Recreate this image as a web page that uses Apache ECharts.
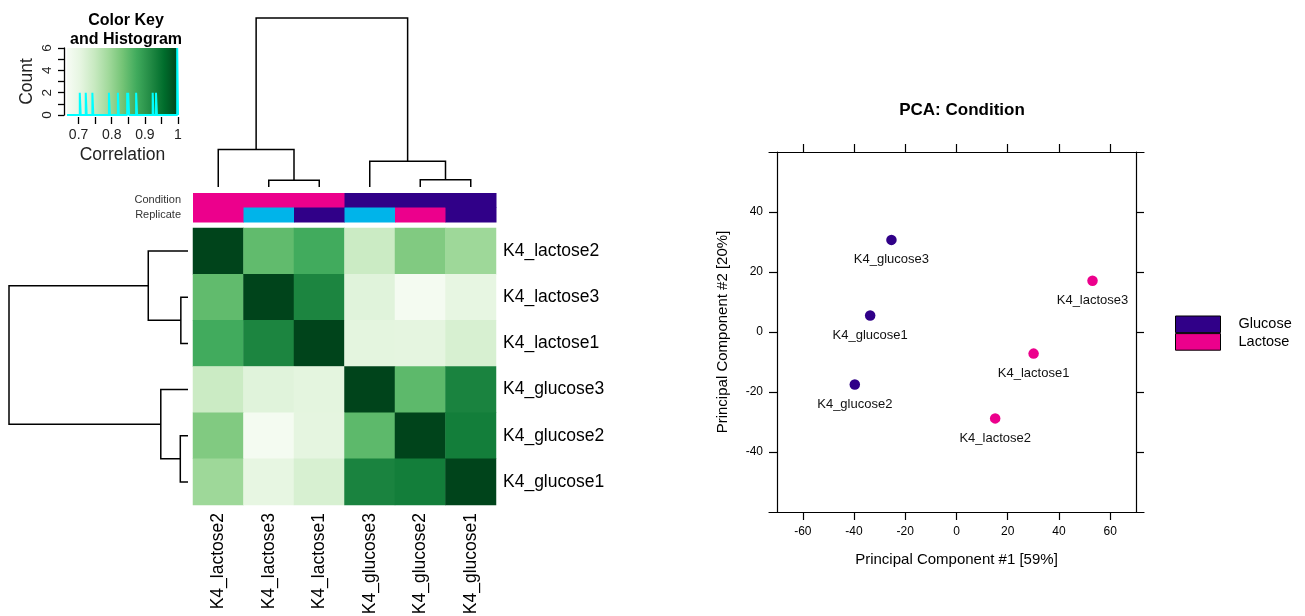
<!DOCTYPE html>
<html><head><meta charset="utf-8">
<script src="https://cdn.jsdelivr.net/npm/echarts@6/dist/echarts.min.js"></script>
<style>html,body{margin:0;padding:0;background:#fff}#c{width:1305px;height:616px}</style>
</head><body><div id="c"></div>
<script>
// ---------- data ----------
const samples = ['K4_lactose2','K4_lactose3','K4_lactose1','K4_glucose3','K4_glucose2','K4_glucose1'];
// correlation matrix (rows/cols in sample order)
const corL2 = [1.000, 0.848, 0.875, 0.743, 0.820, 0.793];
const corL3 = [0.848, 1.000, 0.925, 0.714, 0.672, 0.702];
const corL1 = [0.875, 0.925, 1.000, 0.708, 0.706, 0.726];
const corG3 = [0.743, 0.714, 0.708, 1.000, 0.851, 0.927];
const corG2 = [0.820, 0.672, 0.706, 0.851, 1.000, 0.935];
const corG1 = [0.793, 0.702, 0.726, 0.927, 0.935, 1.000];
const corRows = [corL2, corL3, corL1, corG3, corG2, corG1];

const condition = ['Lactose','Lactose','Lactose','Glucose','Glucose','Glucose'];
const replicate = [2, 3, 1, 3, 2, 1];
const annotRows = ['Condition', 'Replicate'];

// dendrogram merges: [childA, childB, height]; 0-5 leaves, 6+ merged nodes
const dendroMerges = [[1, 2, 0.040], [4, 5, 0.043], [0, 6, 0.222], [3, 7, 0.152], [8, 9, 1.0]];

// colour key histogram
const histCenters = [0.705, 0.723, 0.743, 0.793, 0.820, 0.848, 0.851, 0.875, 0.925, 0.935, 0.999];
const histCounts  = [2, 2, 2, 2, 2, 2, 2, 2, 2, 2, 6];
const keyTicks = [0.7, 0.75, 0.8, 0.85, 0.9, 0.95, 1.0];
const keyLabels = [0.7, 0.8, 0.9, 1];
const countTicks = [0, 1, 2, 3, 4, 5, 6];
const countLabels = [0, 2, 4, 6];

// PCA
const pcaNames = ['K4_glucose1','K4_glucose2','K4_glucose3','K4_lactose1','K4_lactose2','K4_lactose3'];
const pc1 = [-33.7, -39.7, -25.4, 30.1, 15.1, 53.1];
const pc2 = [5.5, -17.5, 30.7, -7.2, -28.8, 17.1];
const pcaCond = ['Glucose','Glucose','Glucose','Lactose','Lactose','Lactose'];
const pcaXTicks = [-60, -40, -20, 0, 20, 40, 60];
const pcaYTicks = [-40, -20, 0, 20, 40];

// ---------- styles ----------
const FONT = '"Liberation Sans", Arial, sans-serif';
const greens = ['#f7fcf5','#e5f5e0','#c7e9c0','#a1d99b','#74c476','#41ab5d','#238b45','#006d2c','#00441b'];
const condColors = {Glucose: '#300088', Lactose: '#ec008c'};
const repColors = {1: '#300088', 2: '#ec008c', 3: '#00b4ea'};
const keyMin = 0.665, keyMax = 1.0, histBinWidth = 0.0028;

// ---------- derived ----------
const heatData = [];
corRows.forEach((row, r) => row.forEach((v, c) => heatData.push([c, r, v])));

const annotData = [];
samples.forEach((s, i) => { annotData.push([i, 0]); annotData.push([i, 1]); });

const nodePos = samples.map((s, i) => i + 0.5);
const nodeH = samples.map(() => 0);
const dendroSegs = [];
dendroMerges.forEach(m => {
  const a = m[0], b = m[1], h = m[2];
  dendroSegs.push([nodePos[a], nodeH[a], nodePos[b], nodeH[b], h]);
  nodePos.push((nodePos[a] + nodePos[b]) / 2);
  nodeH.push(h);
});

const histPts = [[keyMin, 0]];
histCenters.forEach((c, i) => {
  const l = c - histBinWidth / 2, r = Math.min(c + histBinWidth / 2, keyMax);
  histPts.push([l, 0], [l, histCounts[i]], [r, histCounts[i]], [r, 0]);
});
histPts.push([keyMax, 0]);

function pcaSeriesData(cond) {
  const out = [];
  pcaNames.forEach((n, i) => { if (pcaCond[i] === cond) out.push({name: n, value: [pc1[i], pc2[i]]}); });
  return out;
}

function dendroSeries(axisIdx, horizontal) {
  return {
    type: 'custom', xAxisIndex: axisIdx, yAxisIndex: axisIdx, clip: false, silent: true,
    data: dendroSegs,
    encode: horizontal ? {x: [1, 3, 4], y: [0, 2]} : {x: [0, 2], y: [1, 3, 4]},
    renderItem: function (params, api) {
      const xl = api.value(0), hl = api.value(1), xr = api.value(2), hr = api.value(3), h = api.value(4);
      const P = horizontal ? (p, hh) => api.coord([hh, p]) : (p, hh) => api.coord([p, hh]);
      return {type: 'polyline', shape: {points: [P(xl, hl), P(xl, h), P(xr, h), P(xr, hr)]},
        style: {stroke: '#000', lineWidth: 1.5, fill: null}};
    }
  };
}

const hidden = (extra) => Object.assign({show: false, axisLine: {onZero: false}}, extra);
const pcaAxisLine = {show: true, onZero: false, lineStyle: {color: '#000', width: 1.2}};
const pointLabel = {show: true, position: 'bottom', distance: 8, formatter: '{b}', fontSize: 13, color: '#111', opacity: 1};

const chart = echarts.init(document.getElementById('c'));
chart.setOption({
  animation: false,
  backgroundColor: '#fff',
  textStyle: {fontFamily: FONT},
  title: [
    {text: 'Color Key\nand Histogram', left: 121, top: 6, textAlign: 'center',
     textStyle: {fontSize: 16, fontWeight: 'bold', lineHeight: 19, color: '#000', fontFamily: FONT}},
    {text: 'PCA: Condition', left: 957, top: 97, textAlign: 'center',
     textStyle: {fontSize: 17, fontWeight: 'bold', color: '#000', fontFamily: FONT}}
  ],
  grid: [
    {left: 193, top: 228, width: 303, height: 277, outerBoundsMode: 'none'},
    {left: 193, top: 193, width: 303, height: 29, outerBoundsMode: 'none'},
    {left: 193, top: 18, width: 303, height: 169, outerBoundsMode: 'none'},
    {left: 9, top: 228, width: 179, height: 277, outerBoundsMode: 'none'},
    {left: 67, top: 48, width: 111, height: 67, outerBoundsMode: 'none'},
    {left: 769, top: 152, width: 375, height: 360, outerBoundsMode: 'none'}
  ],
  visualMap: {type: 'continuous', show: false, min: keyMin, max: keyMax, seriesIndex: 0, dimension: 2,
    inRange: {color: greens}},
  legend: {
    data: ['Glucose', 'Lactose'], orient: 'vertical', left: 1175, top: 315.5, padding: 0,
    itemWidth: 45, itemHeight: 16.6, itemGap: 0, icon: 'rect',
    itemStyle: {borderColor: '#000', borderWidth: 1, opacity: 1},
    textStyle: {fontSize: 14.5, color: '#000', padding: [0, 0, 0, 13], fontFamily: FONT}
  },
  xAxis: [
    {type: 'category', gridIndex: 0, data: samples, position: 'bottom',
     axisLine: {show: false}, axisTick: {show: false}, splitLine: {show: false},
     axisLabel: {rotate: 90, fontSize: 17.5, color: '#000', margin: 8, interval: 0}},
    {type: 'category', gridIndex: 1, data: samples, show: false},
    hidden({type: 'value', gridIndex: 2, min: 0, max: 6}),
    hidden({type: 'value', gridIndex: 3, min: 0, max: 1, inverse: true}),
    {type: 'value', gridIndex: 4, min: keyMin, max: keyMax, offset: 2,
     axisLine: {show: false, onZero: false}, splitLine: {show: false},
     axisTick: {show: true, customValues: keyTicks, length: 7, lineStyle: {color: '#000', width: 1.3}},
     axisLabel: {customValues: keyLabels, fontSize: 14, color: '#222', margin: 11},
     name: 'Correlation', nameLocation: 'middle', nameGap: 29, nameMoveOverlap: false,
     nameTextStyle: {fontSize: 17.5, color: '#222'}},
    {type: 'value', gridIndex: 5, min: -73.2, max: 73.2, position: 'bottom',
     axisLine: pcaAxisLine, splitLine: {show: false},
     axisTick: {show: true, customValues: pcaXTicks, length: 8, lineStyle: {color: '#000', width: 1.2}},
     axisLabel: {customValues: pcaXTicks, fontSize: 12, color: '#000', margin: 14},
     name: 'Principal Component #1 [59%]', nameLocation: 'middle', nameGap: 40, nameMoveOverlap: false,
     nameTextStyle: {fontSize: 15, color: '#000'}},
    {type: 'value', gridIndex: 5, min: -73.2, max: 73.2, position: 'top',
     axisLine: pcaAxisLine, splitLine: {show: false},
     axisTick: {show: true, customValues: pcaXTicks, length: 8, lineStyle: {color: '#000', width: 1.2}},
     axisLabel: {show: false}}
  ],
  yAxis: [
    {type: 'category', gridIndex: 0, data: samples, inverse: true, position: 'right',
     axisLine: {show: false}, axisTick: {show: false}, splitLine: {show: false},
     axisLabel: {fontSize: 17.5, color: '#000', margin: 7, interval: 0}},
    {type: 'category', gridIndex: 1, data: annotRows, inverse: true, position: 'left',
     axisLine: {show: false}, axisTick: {show: false},
     axisLabel: {fontSize: 11, color: '#333', margin: 12, interval: 0}},
    hidden({type: 'value', gridIndex: 2, min: 0, max: 1}),
    hidden({type: 'value', gridIndex: 3, min: 0, max: 6, inverse: true}),
    {type: 'value', gridIndex: 4, min: 0, max: 6, offset: 3, splitLine: {show: false},
     axisLine: {show: true, onZero: false, lineStyle: {color: '#000', width: 1.3}},
     axisTick: {show: true, customValues: countTicks, length: 6, lineStyle: {color: '#000', width: 1.3}},
     axisLabel: {customValues: countLabels, rotate: 90, fontSize: 13.5, color: '#222', margin: 10},
     name: 'Count', nameLocation: 'middle', nameRotate: 90, nameGap: 28, nameMoveOverlap: false,
     nameTextStyle: {fontSize: 17.5, color: '#222'}},
    {type: 'value', gridIndex: 5, min: -60, max: 60, position: 'left', offset: -8,
     axisLine: pcaAxisLine, splitLine: {show: false},
     axisTick: {show: true, customValues: pcaYTicks, length: 8, lineStyle: {color: '#000', width: 1.2}},
     axisLabel: {customValues: pcaYTicks, fontSize: 12, color: '#000', margin: 14},
     name: 'Principal Component #2 [20%]', nameLocation: 'middle', nameRotate: 90, nameGap: 47, nameMoveOverlap: false,
     nameTextStyle: {fontSize: 15, color: '#000'}},
    {type: 'value', gridIndex: 5, min: -60, max: 60, position: 'right', offset: -8,
     axisLine: pcaAxisLine, splitLine: {show: false},
     axisTick: {show: true, customValues: pcaYTicks, length: 8, lineStyle: {color: '#000', width: 1.2}},
     axisLabel: {show: false}}
  ],
  series: [
    {type: 'heatmap', xAxisIndex: 0, yAxisIndex: 0, data: heatData, silent: true,
     itemStyle: {borderWidth: 0}},
    {type: 'custom', xAxisIndex: 1, yAxisIndex: 1, data: annotData, silent: true,
     renderItem: function (params, api) {
       const i = api.value(0), r = api.value(1);
       const p = api.coord([i, r]); const s = api.size([1, 1]);
       const col = r === 0 ? condColors[condition[i]] : repColors[replicate[i]];
       return {type: 'rect', shape: {x: p[0] - s[0] / 2, y: p[1] - s[1] / 2, width: s[0] + 0.5, height: s[1] + 0.5},
         style: {fill: col}};
     }},
    dendroSeries(2, false),
    dendroSeries(3, true),
    {type: 'line', xAxisIndex: 4, yAxisIndex: 4, data: histPts, showSymbol: false, silent: true, clip: false,
     lineStyle: {color: '#00ffff', width: 2},
     markArea: {silent: true, data: [[
       {coord: [keyMin, 0], itemStyle: {color: new echarts.graphic.LinearGradient(0, 0, 1, 0,
          greens.map((c, i) => ({offset: i / (greens.length - 1), color: c})))}},
       {coord: [keyMax, 6]}]]}},
    {type: 'scatter', name: 'Glucose', xAxisIndex: 5, yAxisIndex: 5, data: pcaSeriesData('Glucose'),
     symbol: 'circle', symbolSize: 10.5, itemStyle: {color: condColors.Glucose, opacity: 1},
     label: pointLabel},
    {type: 'scatter', name: 'Lactose', xAxisIndex: 5, yAxisIndex: 5, data: pcaSeriesData('Lactose'),
     symbol: 'circle', symbolSize: 10.5, itemStyle: {color: condColors.Lactose, opacity: 1},
     label: pointLabel}
  ]
});
</script></body></html>
